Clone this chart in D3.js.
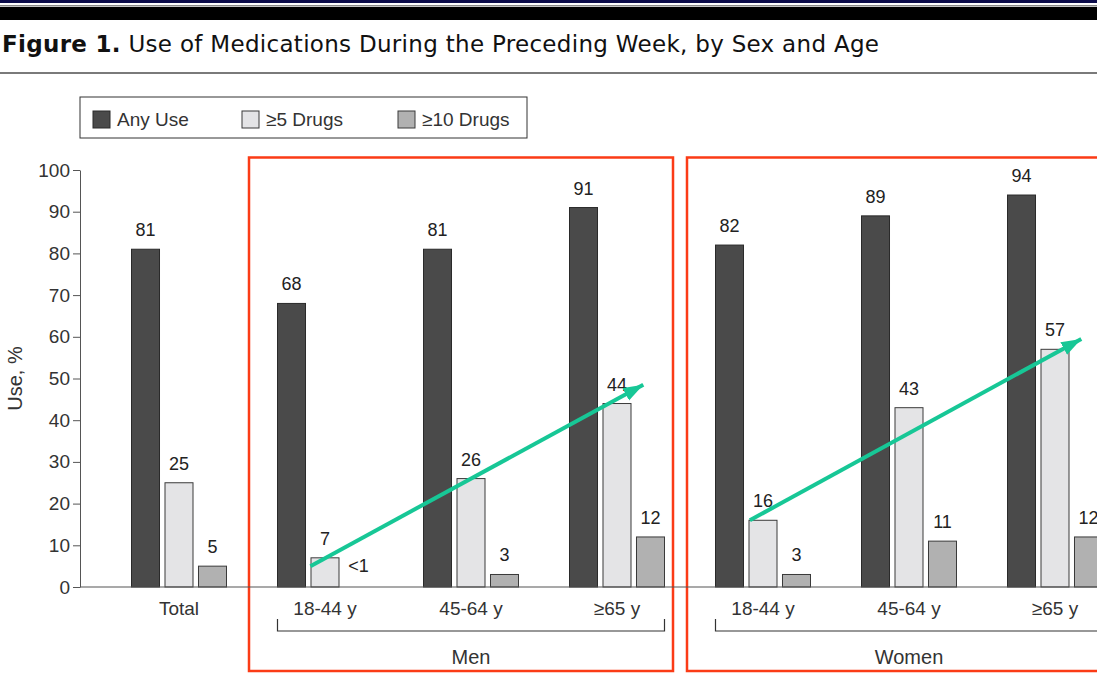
<!DOCTYPE html>
<html>
<head>
<meta charset="utf-8">
<script src="https://cdn.jsdelivr.net/npm/d3@7"></script>
<style>
  body { margin: 0; background: #fff; }
  svg { display: block; }
</style>
</head>
<body>
<script>
// chart values
var groups = ["Total", "Men 18-44 y", "Men 45-64 y", "Men ≥65 y", "Women 18-44 y", "Women 45-64 y", "Women ≥65 y"];
var tickLabels = ["Total", "18-44 y", "45-64 y", "≥65 y", "18-44 y", "45-64 y", "≥65 y"];
var series = ["Any Use", "≥5 Drugs", "≥10 Drugs"];
var anyUse = [81, 68, 81, 91, 82, 89, 94];
var fivePlus = [25, 7, 26, 44, 16, 43, 57];
var tenPlus = [5, 0.5, 3, 12, 3, 11, 12];
var yTicks = [0, 10, 20, 30, 40, 50, 60, 70, 80, 90, 100];
var sexGroups = [{name: "Men", first: 1, last: 3}, {name: "Women", first: 4, last: 6}];
// trend arrows: [group position, value] for start and end
var trendMen = [[0.9, 5], [3.18, 48.5]];
var trendWomen = [[3.91, 16], [6.18, 59.5]];

var width = 1097, height = 681;
var colors = {"Any Use": "#4a4a4a", "≥5 Drugs": "#e4e4e6", "≥10 Drugs": "#b1b1b1"};
var strokes = {"Any Use": "#2a2a2a", "≥5 Drugs": "#3a3a3a", "≥10 Drugs": "#3a3a3a"};
var font = "'Liberation Sans', Arial, Helvetica, sans-serif";

var svg = d3.select("body").append("svg")
    .attr("width", width)
    .attr("height", height);

// header rules
svg.append("rect").attr("x", 0).attr("y", 0).attr("width", width).attr("height", 3).attr("fill", "#0b0b4a");
svg.append("rect").attr("x", 0).attr("y", 5).attr("width", width).attr("height", 1.5).attr("fill", "#8a8a8a");
svg.append("rect").attr("x", 0).attr("y", 7).attr("width", width).attr("height", 13).attr("fill", "#000");
svg.append("rect").attr("x", 0).attr("y", 72).attr("width", width).attr("height", 2).attr("fill", "#7a7a7a");

var title = svg.append("text")
    .attr("x", 2).attr("y", 52)
    .style("font-family", "'DejaVu Sans', 'Open Sans', sans-serif")
    .style("font-size", "23px")
    .style("letter-spacing", "0.3px")
    .attr("fill", "#111");
title.append("tspan").style("font-weight", "bold").text("Figure 1.");
title.append("tspan").text(" Use of Medications During the Preceding Week, by Sex and Age");

var x0 = d3.scaleBand().domain(groups).range([106, 1128]).paddingInner(0).paddingOuter(0);
var x1 = d3.scaleBand().domain(series).range([-47.5, 47.5]).paddingInner(0.164);
var y = d3.scaleLinear().domain([0, 100]).range([587, 170]);
var xPos = d3.scaleLinear().domain([0, 1]).range([x0(groups[0]) + x0.bandwidth() / 2, x0(groups[1]) + x0.bandwidth() / 2]);

function centre(i) { return x0(groups[i]) + x0.bandwidth() / 2; }

// red boxes around sex groups
svg.selectAll(".box").data(sexGroups).enter().append("rect")
    .attr("class", "box")
    .attr("x", function(d){ return x0(groups[d.first]) - 3; })
    .attr("y", y(103))
    .attr("width", function(d){ return x0(groups[d.last]) + x0.step() - 17 - (x0(groups[d.first]) - 3); })
    .attr("height", 671 - y(103))
    .attr("fill", "none")
    .attr("stroke", "#fb3b16")
    .attr("stroke-width", 2.5);

// legend
var legend = svg.append("g");
legend.append("rect").attr("x", 80).attr("y", 97).attr("width", 447).attr("height", 41)
    .attr("fill", "#fff").attr("stroke", "#333").attr("stroke-width", 1);
var legendX = [93, 242, 398];
series.forEach(function(s, i){
  legend.append("rect").attr("x", legendX[i]).attr("y", 111).attr("width", 17).attr("height", 17)
      .attr("fill", colors[s]).attr("stroke", strokes[s]);
  legend.append("text").attr("x", legendX[i] + 24).attr("y", 126)
      .style("font-family", font).style("font-size", "19px").attr("fill", "#333")
      .text(s);
});

// y axis
var yAxis = d3.axisLeft(y).tickValues(yTicks).tickSize(7).tickSizeOuter(0).tickPadding(3);
var yg = svg.append("g").attr("transform", "translate(80,0)").call(yAxis);
yg.select(".domain").attr("stroke", "#555");
yg.selectAll(".tick line").attr("stroke", "#555");
yg.selectAll(".tick text").style("font-family", font).style("font-size", "19px").attr("fill", "#333");

svg.append("text")
    .attr("transform", "translate(22," + y(50) + ") rotate(-90)")
    .attr("text-anchor", "middle")
    .style("font-family", font).style("font-size", "20px").attr("fill", "#333")
    .text("Use, %");

// bars
var rows = groups.map(function(g, i){
  return {group: g, values: [anyUse[i], fivePlus[i], tenPlus[i]]};
});

var gGroups = svg.selectAll(".grp").data(rows).enter().append("g")
    .attr("class", "grp")
    .attr("transform", function(d){ return "translate(" + (x0(d.group) + x0.bandwidth() / 2) + ",0)"; });

var bars = gGroups.selectAll(".bar")
    .data(function(d){ return d.values.map(function(v, j){ return {s: series[j], v: v}; }); })
    .enter();

bars.filter(function(d){ return d.v >= 1; }).append("rect")
    .attr("x", function(d){ return x1(d.s); })
    .attr("y", function(d){ return y(d.v); })
    .attr("width", x1.bandwidth())
    .attr("height", function(d){ return y(0) - y(d.v); })
    .attr("fill", function(d){ return colors[d.s]; })
    .attr("stroke", function(d){ return strokes[d.s]; })
    .attr("stroke-width", 1);

bars.append("text")
    .attr("x", function(d){ return x1(d.s) + x1.bandwidth() / 2; })
    .attr("y", function(d){ return y(d.v) - 13; })
    .attr("text-anchor", "middle")
    .style("font-family", font).style("font-size", "18px").attr("fill", "#222")
    .text(function(d){ return d.v < 1 ? "<1" : d.v; });

// baseline
svg.append("line").attr("x1", 80).attr("x2", width).attr("y1", y(0)).attr("y2", y(0))
    .attr("stroke", "#555").attr("stroke-width", 1.2);

// category labels
svg.selectAll(".cat").data(groups).enter().append("text")
    .attr("x", function(d){ return x0(d) + x0.bandwidth() / 2; })
    .attr("y", 615)
    .attr("text-anchor", "middle")
    .style("font-family", font).style("font-size", "19px").attr("fill", "#333")
    .text(function(d, i){ return tickLabels[i]; });

// brackets for sex groups
sexGroups.forEach(function(d){
  var xa = centre(d.first) + x1.range()[0];
  var xb = centre(d.last) + x1.range()[1];
  svg.append("path")
      .attr("d", "M" + xa + ",619V631H" + xb + "V619")
      .attr("fill", "none").attr("stroke", "#333").attr("stroke-width", 1.2);
  svg.append("text")
      .attr("x", (centre(d.first) + centre(d.last)) / 2)
      .attr("y", 664)
      .attr("text-anchor", "middle")
      .style("font-family", font).style("font-size", "20px").attr("fill", "#333")
      .text(d.name);
});

// trend arrows
svg.append("defs").append("marker")
    .attr("id", "head")
    .attr("markerUnits", "userSpaceOnUse")
    .attr("markerWidth", 22).attr("markerHeight", 16)
    .attr("refX", 20).attr("refY", 7)
    .attr("orient", "auto")
  .append("path")
    .attr("d", "M0,0L20,7L0,14Z")
    .attr("fill", "#17c796");

[trendMen, trendWomen].forEach(function(t){
  svg.append("line")
      .attr("x1", xPos(t[0][0])).attr("y1", y(t[0][1]))
      .attr("x2", xPos(t[1][0])).attr("y2", y(t[1][1]))
      .attr("stroke", "#17c796").attr("stroke-width", 4)
      .attr("marker-end", "url(#head)");
});
</script>
</body>
</html>
